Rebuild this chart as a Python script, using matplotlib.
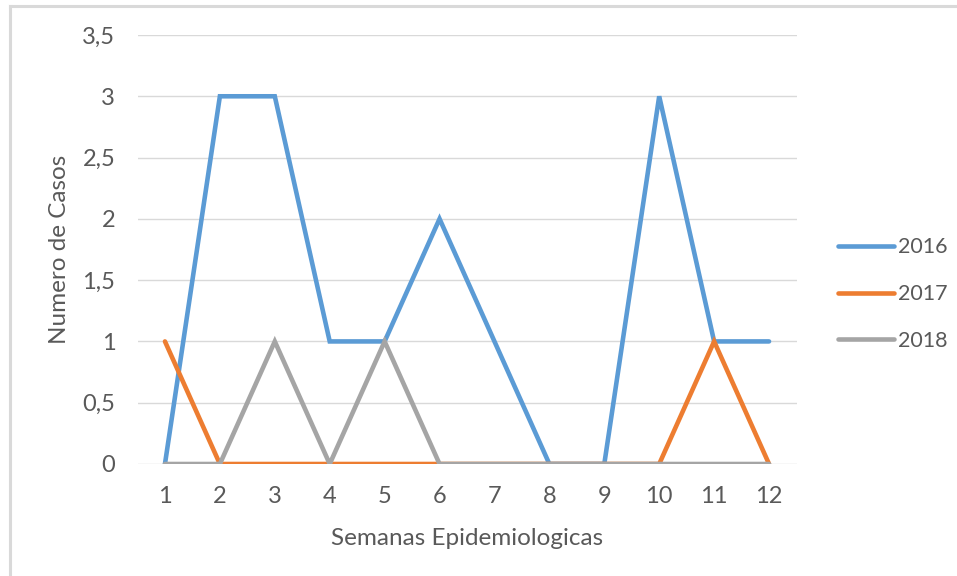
import matplotlib.pyplot as plt
from matplotlib.lines import Line2D

semanas = [1, 2, 3, 4, 5, 6, 7, 8, 9, 10, 11, 12]
casos_2016 = [0, 3, 3, 1, 1, 2, 1, 0, 0, 3, 1, 1]
casos_2017 = [1, 0, 0, 0, 0, 0, 0, 0, 0, 0, 1, 0]
casos_2018 = [0, 0, 1, 0, 1, 0, 0, 0, 0, 0, 0, 0]
y_ticks = [0, 0.5, 1, 1.5, 2, 2.5, 3, 3.5]
y_labels = ['0', '0,5', '1', '1,5', '2', '2,5', '3', '3,5']

plt.rcParams['font.family'] = ['Lato', 'DejaVu Sans']
txt = '#595959'

fig = plt.figure(figsize=(9.57, 5.76), dpi=100)
# outer chart frame
fig.add_artist(Line2D([10/957, 10/957], [0, 1 - 6/576], transform=fig.transFigure,
                      color='#d9d9d9', lw=2.2))
fig.add_artist(Line2D([10/957, 1], [1 - 6/576, 1 - 6/576], transform=fig.transFigure,
                      color='#d9d9d9', lw=2.2))

ax = fig.add_axes([137.5/957, 112/576, 659/957, 429/576])
series = [(casos_2016, '#5B9BD5', '2016'),
          (casos_2017, '#ED7D31', '2017'),
          (casos_2018, '#A5A5A5', '2018')]
for vals, col, lab in series:
    ax.plot(semanas, vals, color=col, lw=3.3, label=lab,
            solid_capstyle='round', solid_joinstyle='miter', zorder=3)

ax.set_xlim(0.5, 12.5)
ax.set_ylim(0, 3.5)
ax.set_yticks(y_ticks)
ax.set_yticklabels(y_labels)
ax.set_xticks(semanas)
ax.grid(axis='y', color='#d9d9d9', lw=1)
ax.set_axisbelow(True)
for s in ax.spines.values():
    s.set_visible(False)
ax.tick_params(length=0, colors=txt, labelsize=17)
ax.tick_params(axis='y', pad=16)
ax.tick_params(axis='x', pad=16)
ax.set_xlabel('Semanas Epidemiologicas', color=txt, fontsize=17.5, labelpad=15)
ax.set_ylabel('Numero de Casos', color=txt, fontsize=17.5, labelpad=9)

leg = ax.legend(loc='center left', bbox_to_anchor=(1.033, 0.396), frameon=False,
                fontsize=15.5, labelcolor=txt, handlelength=2.6, handletextpad=0.19,
                labelspacing=1.25)

fig.savefig('out.png', dpi=100)
